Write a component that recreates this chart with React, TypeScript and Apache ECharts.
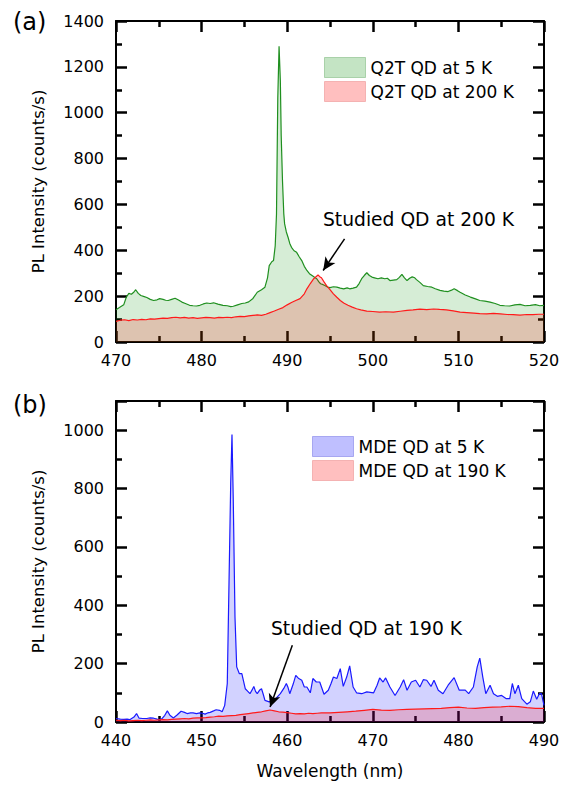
import React, { useEffect, useRef } from 'react';
import * as echarts from 'echarts';

// ---------- Panel (a): Q2T QD spectra ----------
const q2t5K: [number, number][] = [
  [470.0, 141], [470.4, 150], [470.9, 162], [471.2, 195], [471.5, 212], [471.8, 208], [472.1, 218],
  [472.3, 228], [472.6, 212], [472.9, 203], [473.3, 198], [473.6, 194], [474.0, 186], [474.4, 181],
  [474.8, 184], [475.1, 189], [475.5, 186], [475.8, 182], [476.1, 181], [476.5, 186], [476.9, 191],
  [477.3, 183], [477.7, 174], [478.1, 168], [478.6, 160], [479.0, 158], [479.4, 157], [479.8, 160],
  [480.2, 166], [480.6, 170], [481.0, 168], [481.4, 171], [481.9, 165], [482.5, 160], [483.0, 158],
  [483.4, 154], [483.7, 156], [484.2, 162], [484.7, 168], [485.1, 170], [485.5, 175], [486.0, 190],
  [486.5, 217], [487.0, 228], [487.4, 239], [487.7, 280], [487.9, 333], [488.2, 350], [488.4, 355],
  [488.6, 420], [488.75, 558], [488.9, 1065], [489.05, 1290], [489.2, 1138], [489.3, 900], [489.45, 703],
  [489.6, 560], [489.7, 515], [489.9, 480], [490.1, 457], [490.3, 430], [490.5, 413], [490.8, 398],
  [491.1, 391], [491.4, 372], [491.7, 355], [492.0, 330], [492.3, 312], [492.6, 298], [492.9, 290],
  [493.2, 282], [493.45, 276], [493.7, 262], [493.9, 254], [494.2, 250], [494.4, 246], [494.7, 240],
  [495.0, 237], [495.4, 241], [495.8, 239], [496.2, 235], [496.6, 232], [497.0, 236], [497.3, 232],
  [497.7, 235], [498.1, 239], [498.4, 255], [498.7, 276], [499.0, 290], [499.3, 302], [499.6, 290],
  [499.9, 283], [500.2, 280], [500.6, 276], [501.0, 280], [501.4, 276], [501.7, 278], [502.0, 268],
  [502.4, 270], [502.8, 272], [503.1, 282], [503.4, 295], [503.7, 280], [504.0, 268], [504.3, 278],
  [504.6, 284], [504.9, 280], [505.1, 272], [505.5, 260], [505.9, 246], [506.4, 242], [506.9, 239],
  [507.3, 232], [507.85, 225], [508.3, 222], [508.8, 220], [509.2, 226], [509.5, 232], [509.9, 224],
  [510.2, 217], [510.8, 205], [511.4, 196], [512.0, 188], [512.5, 181], [513.1, 178], [513.7, 174],
  [514.3, 168], [514.85, 160], [515.4, 158], [516.0, 157], [516.6, 162], [517.2, 164], [517.8, 158],
  [518.4, 160], [519.0, 163], [519.5, 158], [520.0, 160],
];

const q2t200K: [number, number][] = [
  [470.0, 90], [470.5, 95], [471.0, 97], [471.5, 93], [472.0, 98], [472.5, 96], [473.0, 99],
  [473.5, 97], [474.0, 101], [474.5, 100], [475.0, 102], [475.5, 104], [476.0, 103], [476.5, 106],
  [477.0, 108], [477.5, 105], [478.0, 107], [478.5, 104], [479.0, 106], [479.5, 103], [480.0, 105],
  [480.5, 107], [481.0, 106], [481.5, 104], [482.0, 107], [482.5, 106], [483.0, 108], [483.5, 106],
  [484.0, 110], [484.5, 112], [485.0, 111], [485.5, 114], [486.0, 116], [486.5, 118], [487.0, 116],
  [487.5, 121], [488.0, 128], [488.5, 135], [489.0, 143], [489.5, 150], [490.0, 162], [490.5, 172],
  [491.0, 181], [491.5, 189], [492.0, 210], [492.3, 232], [492.7, 255], [493.1, 276], [493.4, 286],
  [493.6, 292], [493.8, 285], [494.0, 280], [494.3, 262], [494.6, 246], [495.0, 228], [495.4, 210],
  [495.8, 195], [496.2, 181], [496.6, 170], [497.1, 160], [497.6, 152], [498.1, 145], [498.6, 140],
  [499.3, 135], [500.0, 133], [500.8, 130], [501.5, 132], [502.4, 130], [503.2, 134], [504.0, 138],
  [504.7, 140], [505.5, 143], [506.3, 141], [507.1, 144], [507.8, 142], [508.6, 140], [509.4, 136],
  [510.2, 130], [511.0, 128], [511.8, 126], [512.5, 124], [513.3, 123], [514.1, 125], [514.9, 123],
  [515.7, 120], [516.4, 119], [517.2, 117], [518.0, 120], [518.7, 119], [519.4, 121], [520.0, 121],
];

// ---------- Panel (b): MDE QD spectra ----------
const mde5K: [number, number][] = [
  [440.0, 12], [440.5, 10], [440.9, 9], [441.3, 10], [441.6, 8], [442.1, 17], [442.4, 29], [442.7, 13],
  [443.1, 12], [443.6, 12], [444.0, 14], [444.4, 13], [444.8, 10], [445.1, 8], [445.4, 12], [445.7, 23],
  [446.0, 38], [446.3, 23], [446.7, 14], [447.1, 23], [447.6, 37], [448.0, 33], [448.3, 29], [448.7, 31],
  [449.0, 31], [449.4, 29], [449.8, 31], [450.1, 30], [450.4, 27], [450.7, 31], [451.0, 33], [451.4, 38],
  [451.7, 42], [452.1, 40], [452.4, 35], [452.7, 57], [453.0, 132], [453.2, 474], [453.4, 817],
  [453.55, 985], [453.7, 760], [453.9, 360], [454.1, 189], [454.4, 166], [454.7, 166], [454.9, 140],
  [455.1, 114], [455.4, 105], [455.65, 97], [455.9, 110], [456.1, 122], [456.3, 105], [456.5, 97],
  [456.8, 110], [457.0, 114], [457.2, 95], [457.4, 74], [457.9, 69], [458.2, 72], [458.5, 74],
  [458.9, 88], [459.2, 97], [459.6, 115], [459.9, 132], [460.1, 118], [460.3, 97], [460.7, 130],
  [461.0, 160], [461.3, 150], [461.7, 143], [462.0, 120], [462.3, 120], [462.7, 100], [463.0, 149],
  [463.4, 137], [463.8, 137], [464.3, 95], [464.8, 109], [465.1, 130], [465.4, 154], [465.8, 149],
  [466.2, 183], [466.55, 122], [466.95, 154], [467.3, 192], [467.7, 120], [468.1, 100], [468.7, 97],
  [469.3, 103], [470.1, 100], [470.5, 126], [470.8, 151], [471.2, 137], [471.5, 151], [472.0, 120],
  [472.6, 91], [473.2, 120], [473.6, 145], [474.0, 109], [474.5, 137], [475.0, 143], [475.5, 120],
  [475.9, 145], [476.3, 143], [476.8, 122], [477.15, 143], [477.65, 109], [478.2, 97], [478.8, 126],
  [479.5, 152], [480.1, 109], [480.8, 109], [481.2, 97], [481.75, 120], [482.2, 189], [482.5, 219],
  [482.85, 154], [483.2, 97], [483.7, 126], [484.1, 97], [484.55, 88], [485.05, 91], [485.6, 80],
  [486.0, 80], [486.3, 132], [486.6, 97], [487.0, 126], [487.4, 80], [488.0, 61], [488.4, 69],
  [488.75, 106], [489.15, 78], [489.45, 97], [489.7, 97], [490.0, 57],
];

const mde190K: [number, number][] = [
  [440.0, 6], [440.5, 5], [441.0, 6], [441.5, 4], [442.0, 5], [442.5, 6], [443.0, 5], [443.5, 6],
  [444.0, 7], [444.5, 6], [445.0, 7], [445.5, 8], [446.0, 7], [446.5, 9], [447.0, 10], [447.5, 11],
  [448.0, 12], [448.5, 11], [449.0, 13], [449.5, 14], [450.0, 14], [450.5, 15], [451.0, 17], [451.5, 18],
  [452.0, 20], [452.5, 19], [453.0, 21], [453.5, 22], [454.0, 23], [454.5, 25], [455.0, 27], [455.5, 29],
  [456.0, 31], [456.5, 33], [457.0, 35], [457.5, 38], [458.0, 41], [458.5, 38], [459.0, 35], [459.5, 34],
  [460.0, 32], [460.5, 30], [461.0, 28], [461.5, 29], [462.0, 28], [462.5, 30], [463.0, 29], [463.5, 30],
  [464.0, 31], [465.0, 31], [466.0, 33], [467.0, 35], [468.0, 37], [469.0, 40], [470.0, 43], [471.0, 41],
  [472.0, 40], [473.0, 42], [474.0, 43], [475.0, 44], [476.0, 45], [477.0, 46], [478.0, 47], [479.0, 49],
  [480.0, 51], [481.0, 48], [482.0, 47], [483.0, 49], [484.0, 51], [485.0, 52], [486.0, 54], [487.0, 53],
  [488.0, 49], [489.0, 47], [490.0, 47],
];

// axis ranges
const xRangeA = [470, 520];
const yRangeA = [0, 1400];
const xRangeB = [440, 490];
const yRangeB = [0, 1100];
const xStep = 10;
const yStep = 200;

// annotation arrows (data coordinates: tail, head)
const arrowA = [[496.7, 450], [494.2, 312]];
const arrowB = [[460.6, 263], [458.0, 51]];

const names = {
  a5: 'Q2T QD at 5 K',
  a200: 'Q2T QD at 200 K',
  b5: 'MDE QD at 5 K',
  b190: 'MDE QD at 190 K',
};

const FONT = 'DejaVu Sans';
const GREEN = '#1f8f1f';
const RED = '#ff1a1a';
const BLUE = '#1a1aff';
const GREEN_FILL = 'rgba(0,140,0,0.23)';
const RED_FILL = 'rgba(255,0,0,0.25)';
const BLUE_FILL = 'rgba(0,0,255,0.25)';

function tickStyle() {
  return { color: '#000', width: 2.5 };
}

function xAxisDef(gridIndex: number, range: number[], position: 'top' | 'bottom', withName: boolean) {
  return {
    type: 'value',
    gridIndex,
    position,
    min: range[0],
    max: range[1],
    interval: xStep,
    name: withName ? 'Wavelength (nm)' : undefined,
    nameLocation: 'middle',
    nameGap: 40,
    nameTextStyle: { fontSize: 17, fontFamily: FONT, color: '#000' },
    axisLine: { show: true, onZero: false, lineStyle: { color: '#000', width: 2 } },
    axisTick: { show: true, inside: true, length: 11, lineStyle: tickStyle() },
    minorTick: { show: true, splitNumber: 2, length: 6, lineStyle: tickStyle() },
    splitLine: { show: false },
    axisLabel: {
      show: position === 'bottom',
      color: '#000',
      fontSize: 16,
      fontFamily: FONT,
      margin: 10,
      formatter: (v: number) => String(v),
    },
  };
}

function yAxisDef(gridIndex: number, range: number[], position: 'left' | 'right') {
  return {
    type: 'value',
    gridIndex,
    position,
    min: range[0],
    max: range[1],
    interval: yStep,
    name: position === 'left' ? 'PL Intensity (counts/s)' : undefined,
    nameLocation: 'middle',
    nameGap: 69,
    nameTextStyle: { fontSize: 16.5, fontFamily: FONT, color: '#000' },
    axisLine: { show: true, onZero: false, lineStyle: { color: '#000', width: 2 } },
    axisTick: { show: true, inside: true, length: 11, lineStyle: tickStyle() },
    minorTick: { show: true, splitNumber: 2, length: 6, lineStyle: tickStyle() },
    splitLine: { show: false },
    axisLabel: {
      show: position === 'left',
      color: '#000',
      fontSize: 16,
      fontFamily: FONT,
      margin: 12,
      formatter: (v: number) => (v % yStep === 0 ? String(v) : ''),
    },
  };
}

function areaSeries(name: string, data: [number, number][], axisIdx: number, line: string, fill: string, z: number) {
  return {
    type: 'line',
    name,
    xAxisIndex: axisIdx,
    yAxisIndex: axisIdx,
    data,
    symbol: 'none',
    showSymbol: false,
    smooth: false,
    z,
    lineStyle: { color: line, width: 1.2 },
    itemStyle: { color: line },
    areaStyle: { color: fill, origin: 'start' },
  };
}

function arrowMark(arrow: number[][]) {
  return {
    silent: true,
    symbol: ['none', 'arrow'],
    symbolSize: [9, 13],
    label: { show: false },
    lineStyle: { color: '#000', width: 1.5, type: 'solid' },
    emphasis: { disabled: true },
    data: [[{ coord: arrow[0] }, { coord: arrow[1] }]],
  };
}

function legendDef(left: number, top: number, items: { name: string; fill: string; border: string }[]) {
  return {
    show: true,
    orient: 'vertical',
    left,
    top,
    padding: 0,
    itemWidth: 41,
    itemHeight: 20,
    itemGap: 3,
    selectedMode: false,
    textStyle: { fontSize: 17, fontFamily: FONT, color: '#000', lineHeight: 20 },
    data: items.map((it) => ({
      name: it.name,
      icon: 'rect',
      itemStyle: { color: it.fill, borderColor: it.border, borderWidth: 1 },
    })),
  };
}

function textEl(text: string, x: number, y: number, size: number) {
  return {
    type: 'text',
    x,
    y,
    silent: true,
    style: {
      text,
      fontSize: size,
      fontFamily: FONT,
      fill: '#000',
      align: 'left',
      verticalAlign: 'middle',
      textAlign: 'left',
      textVerticalAlign: 'middle',
    },
  };
}

export default function App() {
  const ref = useRef<HTMLDivElement>(null);

  useEffect(() => {
    if (!ref.current) return;
    const chart = echarts.init(ref.current, undefined, { renderer: 'svg' });

    const redA: any = areaSeries(names.a200, q2t200K, 0, RED, RED_FILL, 3);
    redA.markLine = arrowMark(arrowA);
    const redB: any = areaSeries(names.b190, mde190K, 2, RED, RED_FILL, 3);
    redB.markLine = arrowMark(arrowB);

    const option: any = {
      animation: false,
      backgroundColor: '#fff',
      textStyle: { fontFamily: FONT },
      grid: [
        { left: 116, top: 21, width: 428, height: 321 },
        { left: 116, top: 401, width: 428, height: 321 },
      ],
      xAxis: [
        xAxisDef(0, xRangeA, 'bottom', false),
        xAxisDef(0, xRangeA, 'top', false),
        xAxisDef(1, xRangeB, 'bottom', true),
        xAxisDef(1, xRangeB, 'top', false),
      ],
      yAxis: [
        yAxisDef(0, yRangeA, 'left'),
        yAxisDef(0, yRangeA, 'right'),
        yAxisDef(1, yRangeB, 'left'),
        yAxisDef(1, yRangeB, 'right'),
      ],
      legend: [
        legendDef(324, 57, [
          { name: names.a5, fill: GREEN_FILL, border: 'rgba(0,110,0,0.25)' },
          { name: names.a200, fill: RED_FILL, border: 'rgba(200,0,0,0.2)' },
        ]),
        legendDef(312, 436, [
          { name: names.b5, fill: BLUE_FILL, border: 'rgba(0,0,200,0.25)' },
          { name: names.b190, fill: RED_FILL, border: 'rgba(200,0,0,0.2)' },
        ]),
      ],
      series: [
        areaSeries(names.a5, q2t5K, 0, GREEN, GREEN_FILL, 2),
        redA,
        areaSeries(names.b5, mde5K, 2, BLUE, BLUE_FILL, 2),
        redB,
      ],
      graphic: [
        textEl('(a)', 13, 22, 24),
        textEl('(b)', 13, 405, 24),
        textEl('Studied QD at 200 K', 323, 219, 18.7),
        textEl('Studied QD at 190 K', 271, 628, 18.7),
      ],
    };

    chart.setOption(option);
    return () => {
      chart.dispose();
    };
  }, []);

  return (
    <div
      ref={ref}
      style={{ position: 'absolute', left: 0, top: 0, width: 565, height: 785, background: '#fff' }}
    />
  );
}
